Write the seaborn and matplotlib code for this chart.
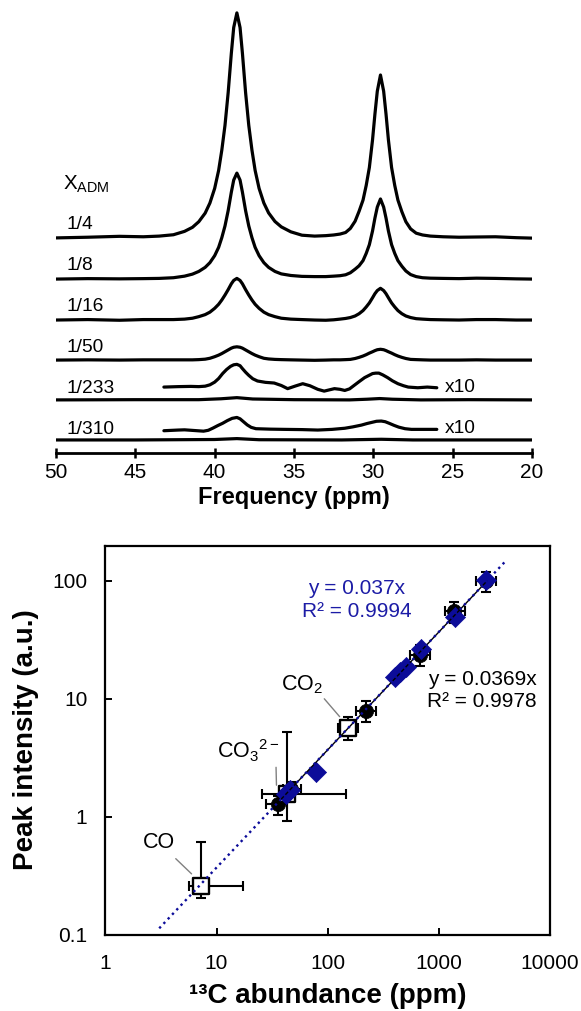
import numpy as np
import matplotlib
matplotlib.use('Agg')
import matplotlib.pyplot as plt
from matplotlib.ticker import NullLocator
import seaborn as sns

sns.set_theme(style='ticks')
plt.rcParams['font.family'] = ['Liberation Sans', 'DejaVu Sans']
plt.rcParams['mathtext.fontset'] = 'custom'
plt.rcParams['mathtext.rm'] = 'Liberation Sans'
plt.rcParams['mathtext.it'] = 'Liberation Sans:italic'
plt.rcParams['mathtext.bf'] = 'Liberation Sans:bold'

# ---------------- top panel: 13C spectra ----------------
ppm = [50, 48, 46, 44.5, 43.5, 42.6, 41.9, 41.4, 41.0, 40.6,
       40.3, 40.0, 39.75, 39.55, 39.35, 39.15, 38.95, 38.8, 38.6, 38.4,
       38.25, 38.05, 37.85, 37.65, 37.45, 37.2, 36.9, 36.6, 36.2, 35.8,
       35.2, 34.5, 33.7, 33.0, 32.5, 32.1, 31.75, 31.45, 31.15, 30.9,
       30.65, 30.45, 30.25, 30.05, 29.9, 29.75, 29.55, 29.35, 29.2, 29.05,
       28.85, 28.65, 28.45, 28.2, 27.95, 27.65, 27.3, 26.9, 26.4, 25.6,
       24.6, 23.5, 22.3, 21.0, 20.0]
int_1_4 = [0.0, 0.3, 0.7, 0.5, 0.8, 1.4, 2.9, 4.7, 7.2, 11.0,
           15.5, 22.0, 30.0, 39.0, 50.0, 64.5, 82.0, 93.5, 100.0, 93.5,
           82.0, 64.5, 50.0, 39.0, 30.0, 22.0, 15.5, 11.1, 7.3, 4.9,
           2.7, 1.2, 0.8, 1.0, 1.3, 1.7, 2.4, 4.2, 7.4, 11.8,
           16.8, 23.3, 31.3, 43.6, 55.0, 65.2, 72.4, 65.2, 55.0, 43.6,
           31.3, 23.3, 16.8, 11.6, 7.2, 4.0, 2.1, 1.3, 0.8, 0.5,
           0.3, 0.4, 0.5, 0.1, -0.1]
int_1_8 = [0.0, 0.2, 0.1, 0.2, 0.3, 0.6, 1.3, 2.2, 3.4, 5.2,
           7.3, 10.4, 14.1, 18.4, 23.6, 30.4, 38.6, 44.0, 47.1, 44.0,
           38.6, 30.4, 23.6, 18.4, 14.1, 10.4, 7.3, 5.2, 3.4, 2.3,
           1.6, 1.2, 1.1, 1.1, 1.3, 1.5, 1.9, 2.8, 4.4, 5.9,
           8.2, 11.4, 15.3, 21.4, 27.1, 32.0, 35.6, 32.0, 27.1, 21.4,
           15.3, 11.4, 8.2, 5.7, 3.6, 2.0, 1.1, 0.6, 0.4, 0.3,
           0.2, 0.4, 0.3, 0.1, 0.0]
int_1_16 = [0.0, 0.2, -0.1, 0.2, 0.2, 0.2, 0.4, 0.8, 1.5, 2.4,
            3.5, 5.2, 7.0, 8.9, 11.1, 13.5, 16.1, 17.6, 18.5, 17.6,
            16.1, 13.5, 11.1, 8.9, 7.0, 5.2, 3.5, 2.4, 1.5, 0.8,
            0.4, 0.2, 0.0, -0.1, 0.1, 0.4, 0.7, 1.1, 1.8, 2.8,
            4.2, 5.8, 7.6, 9.9, 11.7, 13.1, 14.1, 13.1, 11.7, 9.9,
            7.6, 5.8, 4.2, 2.8, 1.8, 1.1, 0.6, 0.4, 0.2, 0.1,
            0.0, 0.2, 0.2, 0.0, 0.0]
int_1_50 = [0.0, 0.1, 0.0, 0.1, 0.1, 0.1, 0.1, 0.1, 0.2, 0.4,
            0.8, 1.5, 2.2, 2.9, 3.7, 4.5, 5.3, 5.7, 5.9, 5.7,
            5.3, 4.5, 3.7, 2.9, 2.2, 1.5, 0.8, 0.5, 0.3, 0.2,
            0.1, 0.0, -0.1, 0.0, 0.1, 0.1, 0.2, 0.3, 0.7, 1.2,
            1.8, 2.4, 3.1, 3.7, 4.2, 4.6, 4.8, 4.6, 4.2, 3.7,
            3.1, 2.4, 1.8, 1.2, 0.7, 0.3, 0.2, 0.1, 0.0, 0.0,
            0.0, 0.1, 0.0, 0.0, 0.0]

ppm_1_233 = [50, 45, 41, 39.6, 38.6, 37.6, 35, 31.5, 30.4, 29.6, 28.8, 27, 24, 20]
int_1_233 = [0.0, 0.1, 0.1, 0.5, 1.0, 0.4, 0.1, 0.0, 0.3, 0.6, 0.3, 0.0, 0.1, 0.0]
ppm_1_310 = [50, 45, 40, 38.6, 37.2, 32, 29.5, 27.5, 20]
int_1_310 = [0.0, 0.0, 0.2, 0.6, 0.1, 0.0, 0.3, 0.0, 0.0]

# expanded (x10) traces
ppm_1_233_x10 = [43.2, 42.3, 41.5, 41.0, 40.6, 40.3, 40.0, 39.75, 39.5, 39.25,
                 39.0, 38.8, 38.6, 38.4, 38.25, 38.05, 37.85, 37.6, 37.3, 36.8,
                 36.25, 35.8, 35.4, 34.9, 34.45, 34.0, 33.5, 33.1, 32.75, 32.45,
                 32.1, 31.8, 31.5, 31.2, 30.9, 30.55, 30.3, 30.05, 29.85, 29.65,
                 29.4, 29.1, 28.8, 28.45, 28.1, 27.8, 27.2, 26.6, 26.0]
int_1_233_x10 = [0.0, 0.2, 0.3, 0.2, 0.4, 1.0, 2.2, 3.8, 6.0, 7.8,
                 9.2, 9.9, 10.1, 9.5, 8.2, 6.6, 5.2, 3.7, 2.7, 2.1,
                 1.8, 0.7, -0.7, 0.5, 1.5, 0.6, -1.0, -1.8, -1.2, -0.7,
                 -1.0, -1.5, -0.8, 0.8, 2.4, 4.2, 5.1, 6.0, 6.2, 6.2,
                 5.4, 4.2, 2.8, 1.5, 0.6, 0.0, -0.3, 0.0, -0.3]
ppm_1_310_x10 = [43.2, 42.3, 41.9, 41.3, 40.7, 40.4, 40.1, 39.8, 39.5, 39.2,
                 38.9, 38.6, 38.4, 38.2, 37.95, 37.7, 37.4, 36.5, 35.6, 34.5,
                 33.5, 32.6, 31.8, 31.3, 30.75, 30.4, 30.1, 29.8, 29.5, 29.25,
                 29.0, 28.7, 28.4, 28.0, 27.6, 26.8, 26.0]
int_1_310_x10 = [-0.3, 0.0, 0.1, -0.2, -0.5, -0.1, 0.9, 2.0, 3.0, 4.2,
                 5.2, 5.6, 5.0, 3.8, 2.3, 1.2, 0.6, 0.4, 0.3, 0.2,
                 0.0, 0.3, 0.8, 1.4, 2.2, 2.9, 3.4, 3.9, 4.0, 3.7,
                 3.0, 2.1, 1.3, 0.6, 0.3, 0.3, 0.3]

trace_labels = ['1/4', '1/8', '1/16', '1/50', '1/233', '1/310']
freq_ticks = [50, 45, 40, 35, 30, 25, 20]

# ---------------- bottom panel: peak intensity vs abundance ----------------
circ_x = [36, 47, 223, 680, 1380, 2680]
circ_y = [1.29, 1.73, 7.95, 23.7, 55.5, 100]
circ_xlo = [28.1, 39.7, 181, 545, 1125, 2170]
circ_xhi = [42.6, 58, 274, 824, 1703, 3280]
circ_ylo = [1.03, 1.47, 6.4, 19.1, 44.2, 80.5]
circ_yhi = [1.5, 1.97, 9.5, 28.8, 66.2, 120]

diam_x = [42, 46, 79, 400, 450, 505, 690, 1390, 2670]
diam_y = [1.55, 1.68, 2.40, 15.3, 17.0, 18.8, 26.3, 49.7, 102]

sq_names = ['CO', r'CO$_3$$^{2-}$', r'CO$_2$']
sq_x = [7.2, 42.6, 152]
sq_y = [0.256, 1.57, 5.63]
sq_xlo = [5.67, 25.4, 124]
sq_xhi = [17.3, 145, 187]
sq_ylo = [0.206, 0.91, 4.47]
sq_yhi = [0.615, 5.26, 7.06]

fit_blue_slope, fit_blue_x = 0.037, [3.05, 3975]
fit_black_slope, fit_black_x = 0.0369, [36, 2700]
abund_ticks = [1, 10, 100, 1000, 10000]
inten_ticks = [0.1, 1, 10, 100]

BLUE = '#0c0c99'
BLUE_TXT = '#1c1ca6'

fig = plt.figure(figsize=(5.81, 10.11), dpi=100)

# ---- top axes
ax1 = fig.add_axes([56 / 581, 1 - 453 / 1011, 476 / 581, 448 / 1011])
ax1.set_facecolor('none')
main_traces = [int_1_4, int_1_8, int_1_16, int_1_50]
main_offsets = [95.6, 77.3, 59.1, 41.3]
for ys, off in zip(main_traces, main_offsets):
    sns.lineplot(x=ppm, y=np.asarray(ys) + off, ax=ax1, color='black', lw=2.3,
                 sort=False, estimator=None, legend=False)
small = [(ppm_1_233, int_1_233, 23.6), (ppm_1_310, int_1_310, 5.8),
         (ppm_1_233_x10, int_1_233_x10, 29.3), (ppm_1_310_x10, int_1_310_x10, 10.2)]
for xs, ys, off in small:
    sns.lineplot(x=xs, y=np.asarray(ys) + off, ax=ax1, color='black', lw=2.3,
                 sort=False, estimator=None, legend=False)

label_base = [99.6, 81.3, 63.2, 45.0, 26.8, 8.3]
for lab, yb in zip(trace_labels, label_base):
    ax1.text(49.33, yb, lab, ha='left', va='baseline', fontsize=13.8, color='black')
for yb in [27.2, 8.8]:
    ax1.text(25.47, yb, 'x10', ha='left', va='baseline', fontsize=13.8, color='black')
ax1.text(49.56, 116.9, r'X$_{\mathrm{ADM}}$', ha='left', va='baseline', fontsize=14.8,
         color='black')

ax1.set_xlim(50, 20)
ax1.set_ylim(0, 448 / 2.25)
ax1.set_xticks(freq_ticks)
ax1.set_xticklabels([str(t) for t in freq_ticks])
ax1.set_yticks([])
for s in ['left', 'right', 'top']:
    ax1.spines[s].set_visible(False)
ax1.spines['bottom'].set_linewidth(2.0)
ax1.spines['bottom'].set_color('black')
ax1.tick_params(axis='x', direction='inout', length=7, width=1.8, color='black',
                labelsize=15, pad=4.0, labelcolor='black')
ax1.set_xlabel('Frequency (ppm)', fontsize=17, fontweight='bold', color='black')
ax1.xaxis.set_label_coords(0.5, -(486 - 453) / 448)
ax1.xaxis.label.set_va('top')
ax1.set_ylabel('')

# ---- bottom axes
ax2 = fig.add_axes([105.4 / 581, 1 - 934.5 / 1011, (550 - 105.4) / 581, 389 / 1011])
ax2.set_xscale('log')
ax2.set_yscale('log')

ax2.errorbar(circ_x, circ_y,
             xerr=[np.subtract(circ_x, circ_xlo), np.subtract(circ_xhi, circ_x)],
             yerr=[np.subtract(circ_y, circ_ylo), np.subtract(circ_yhi, circ_y)],
             fmt='none', ecolor='black', elinewidth=1.5, capsize=3.4, capthick=1.5, zorder=2)
ax2.errorbar(sq_x, sq_y,
             xerr=[np.subtract(sq_x, sq_xlo), np.subtract(sq_xhi, sq_x)],
             yerr=[np.subtract(sq_y, sq_ylo), np.subtract(sq_yhi, sq_y)],
             fmt='none', ecolor='black', elinewidth=1.5, capsize=3.4, capthick=1.5, zorder=2)

sns.scatterplot(x=circ_x, y=circ_y, ax=ax2, marker='o', s=105, color='black',
                edgecolor='black', linewidth=0.5, zorder=3, legend=False)
sns.scatterplot(x=sq_x, y=sq_y, ax=ax2, marker='s', s=125, color='white',
                edgecolor='black', linewidth=1.7, zorder=4, legend=False)
sns.scatterplot(x=diam_x, y=diam_y, ax=ax2, marker='D', s=105, color=BLUE,
                edgecolor=BLUE, linewidth=0.5, zorder=5, legend=False)

fbx = np.asarray(fit_black_x, dtype=float)
sns.lineplot(x=fbx, y=fit_black_slope * fbx, ax=ax2, color='black', lw=1.0,
             sort=False, estimator=None, legend=False, zorder=6)
fbl = np.asarray(fit_blue_x, dtype=float)
sns.lineplot(x=fbl, y=fit_blue_slope * fbl, ax=ax2, color=BLUE, lw=1.7, linestyle=':',
             sort=False, estimator=None, legend=False, zorder=7)

# labels for the open squares
ax2.annotate('CO', xy=(5.96, 0.327), xytext=(3.06, 0.537), ha='center', va='baseline',
             fontsize=15.5, color='black',
             arrowprops=dict(arrowstyle='-', color='#808080', lw=1.0, shrinkA=2, shrinkB=0))
ax2.annotate(sq_names[1], xy=(34.6, 1.85), xytext=(10.0, 3.12), ha='left', va='baseline',
             fontsize=15.5, color='black',
             arrowprops=dict(arrowstyle='-', color='#808080', lw=1.0, shrinkA=0, shrinkB=0,
                             relpos=(0.95, 0.0)))
ax2.annotate(sq_names[2], xy=(128, 7.06), xytext=(38.4, 11.9), ha='left', va='baseline',
             fontsize=15.5, color='black',
             arrowprops=dict(arrowstyle='-', color='#808080', lw=1.0, shrinkA=0, shrinkB=0,
                             relpos=(0.95, 0.0)))

ax2.text(181, 77, 'y = 0.037x', ha='center', va='baseline', fontsize=15, color=BLUE_TXT)
ax2.text(181, 49.2, 'R² = 0.9994', ha='center', va='baseline', fontsize=15, color=BLUE_TXT)
ax2.text(2444, 13.2, 'y = 0.0369x', ha='center', va='baseline', fontsize=15, color='black')
ax2.text(2444, 8.55, 'R² = 0.9978', ha='center', va='baseline', fontsize=15, color='black')

ax2.set_xlim(1, 10000)
ax2.set_ylim(0.1, 200)
ax2.set_xticks(abund_ticks)
ax2.set_xticklabels(['1', '10', '100', '1000', '10000'])
ax2.set_yticks(inten_ticks)
ax2.set_yticklabels(['0.1', '1', '10', '100'])
ax2.xaxis.set_minor_locator(NullLocator())
ax2.yaxis.set_minor_locator(NullLocator())
for s in ax2.spines.values():
    s.set_linewidth(1.6)
    s.set_color('black')
    s.set_visible(True)
ax2.tick_params(axis='both', direction='in', length=5, width=1.4, color='black',
                labelsize=15, labelcolor='black')
ax2.tick_params(axis='x', pad=14)
ax2.tick_params(axis='y', pad=13)
ax2.set_xlabel('¹³C abundance (ppm)', fontsize=20, fontweight='bold', color='black')
ax2.set_ylabel('Peak intensity (a.u.)', fontsize=20, fontweight='bold', color='black')
ax2.xaxis.set_label_coords(0.5, -(983 - 934.5) / 389)
ax2.xaxis.label.set_va('top')
ax2.yaxis.set_label_coords((39 - 105.4) / 444.6, 0.5)
ax2.yaxis.label.set_va('bottom')

fig.savefig('out.png', dpi=100)
